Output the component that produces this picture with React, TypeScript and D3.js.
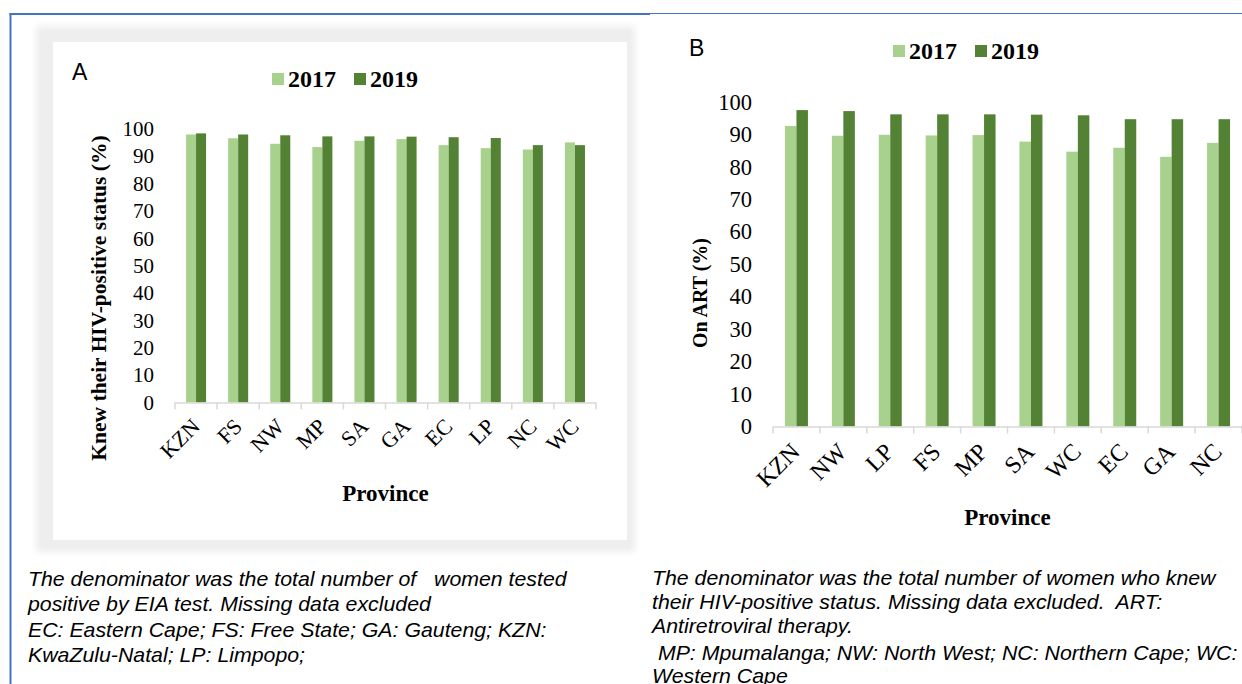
import React from 'react';
import * as d3 from 'd3';

// ---------- data ----------
const seriesNames = ['2017', '2019'];

const provincesA = ['KZN', 'FS', 'NW', 'MP', 'SA', 'GA', 'EC', 'LP', 'NC', 'WC'];
const knew2017 = [98.0, 96.6, 94.6, 93.4, 95.7, 96.3, 94.1, 93.0, 92.5, 95.1];
const knew2019 = [98.4, 98.0, 97.7, 97.3, 97.3, 97.2, 97.0, 96.7, 94.1, 94.1];

const provincesB = ['KZN', 'NW', 'LP', 'FS', 'MP', 'SA', 'WC', 'EC', 'GA', 'NC'];
const art2017 = [92.6, 89.6, 89.9, 89.7, 89.8, 87.8, 84.7, 85.9, 83.1, 87.4];
const art2019 = [97.5, 97.2, 96.2, 96.2, 96.2, 96.1, 95.9, 94.7, 94.7, 94.7];

const yTicks = [0, 10, 20, 30, 40, 50, 60, 70, 80, 90, 100];

const captionA = [
  'The denominator was the total number of   women tested',
  'positive by EIA test. Missing data excluded',
  'EC: Eastern Cape; FS: Free State; GA: Gauteng; KZN:',
  'KwaZulu-Natal; LP: Limpopo;',
];
const captionB = [
  'The denominator was the total number of women who knew',
  'their HIV-positive status. Missing data excluded.  ART:',
  'Antiretroviral therapy.',
  ' MP: Mpumalanga; NW: North West; NC: Northern Cape; WC:',
  'Western Cape',
];

// ---------- style ----------
const COLORS: Record<string, string> = { '2017': '#a9d18e', '2019': '#548235' };
const SERIF = '"Liberation Serif", "Times New Roman", serif';
const SANS = '"Liberation Sans", Arial, sans-serif';
const BLUE = '#4472c4';

type PanelProps = {
  letter: string;
  letterX: number;
  letterY: number;
  cats: string[];
  values: number[][];
  x0: number;
  x1: number;
  yBottom: number;
  yTop: number;
  outerPad: number;
  tickFont: number;
  catFont: number;
  tickRight: number;
  yTitle: string;
  yTitleX: number;
  yTitleY: number;
  yTitleFont: number;
  xTitleY: number;
  legendX: number;
  legendY: number;
  labelDx: number;
  labelDy: number;
};

function Panel(p: PanelProps) {
  const x = d3.scaleBand<string>().domain(p.cats).range([p.x0, p.x1]).paddingInner(0).paddingOuter(0);
  const xs = d3
    .scaleBand<string>()
    .domain(seriesNames)
    .range([0, x.bandwidth()])
    .paddingInner(0)
    .paddingOuter(p.outerPad);
  const y = d3.scaleLinear().domain([0, 100]).range([p.yBottom, p.yTop]);
  const step = x.step();

  return (
    <g>
      <text x={p.letterX} y={p.letterY} fontFamily={SANS} fontSize={23} fill="#000">
        {p.letter}
      </text>
      {/* legend */}
      {seriesNames.map((s, i) => (
        <g key={s} transform={`translate(${p.legendX + i * 82},${p.legendY})`}>
          <rect x={0} y={-6} width={12} height={12} fill={COLORS[s]} />
          <text x={16} y={0} dy="0.34em" fontFamily={SERIF} fontWeight="bold" fontSize={24} fill="#000">
            {s}
          </text>
        </g>
      ))}
      {/* y tick labels */}
      {yTicks.map((t) => (
        <text
          key={t}
          x={p.tickRight}
          y={y(t)}
          dy="0.34em"
          textAnchor="end"
          fontFamily={SERIF}
          fontSize={p.tickFont}
          fill="#000"
        >
          {t}
        </text>
      ))}
      {/* bars */}
      {p.cats.map((c, i) => (
        <g key={c} transform={`translate(${x(c)},0)`}>
          {seriesNames.map((s, j) => (
            <rect
              key={s}
              x={xs(s)}
              y={y(p.values[j][i])}
              width={xs.bandwidth()}
              height={y(0) - y(p.values[j][i])}
              fill={COLORS[s]}
            />
          ))}
        </g>
      ))}
      {/* x axis */}
      <line x1={p.x0} x2={p.x1} y1={y(0) + 0.5} y2={y(0) + 0.5} stroke="#d9d9d9" strokeWidth={1.5} />
      {d3.range(p.cats.length + 1).map((i) => (
        <line
          key={i}
          x1={p.x0 + i * step}
          x2={p.x0 + i * step}
          y1={y(0)}
          y2={y(0) + 7}
          stroke="#d9d9d9"
          strokeWidth={1.5}
        />
      ))}
      {p.cats.map((c) => (
        <text
          key={c}
          transform={`translate(${(x(c) as number) + step / 2 + p.labelDx},${y(0) + p.labelDy}) rotate(-45)`}
          textAnchor="end"
          dy="0.34em"
          fontFamily={SERIF}
          fontSize={p.catFont}
          fill="#000"
        >
          {c}
        </text>
      ))}
      {/* titles */}
      <text
        x={(p.x0 + p.x1) / 2}
        y={p.xTitleY}
        dy="0.34em"
        textAnchor="middle"
        fontFamily={SERIF}
        fontWeight="bold"
        fontSize={23}
        fill="#000"
      >
        Province
      </text>
      <text
        transform={`translate(${p.yTitleX},${p.yTitleY}) rotate(-90)`}
        textAnchor="middle"
        dy="0.34em"
        fontFamily={SERIF}
        fontWeight="bold"
        fontSize={p.yTitleFont}
        fill="#000"
      >
        {p.yTitle}
      </text>
    </g>
  );
}

function Caption({ lines, x, baselines }: { lines: string[]; x: number; baselines: number[] }) {
  return (
    <g transform={`translate(${x},0) scale(1.065,1)`}>
      {lines.map((l, i) => (
        <text
          key={i}
          x={0}
          y={baselines[i]}
          fontFamily={SANS}
          fontStyle="italic"
          fontSize={20}
          fill="#000"
          style={{ whiteSpace: 'pre' }}
        >
          {l}
        </text>
      ))}
    </g>
  );
}

export default function App() {
  return (
    <svg
      width={1242}
      height={684}
      style={{ position: 'absolute', left: 0, top: 0, background: '#fff' }}
      xmlns="http://www.w3.org/2000/svg"
    >
      <defs>
        <filter id="soft" x="-10%" y="-10%" width="120%" height="120%">
          <feGaussianBlur stdDeviation="3" />
        </filter>
      </defs>
      <rect x={0} y={0} width={1242} height={684} fill="#fff" />
      {/* blue frame lines */}
      <line x1={10.5} x2={10.5} y1={13} y2={684} stroke={BLUE} strokeWidth={2} />
      <line x1={9.5} x2={650} y1={14} y2={14} stroke={BLUE} strokeWidth={2} />
      <line x1={650} x2={1242} y1={13.5} y2={13.5} stroke={BLUE} strokeWidth={1} />

      {/* panel A frame */}
      <rect x={36} y={26} width={599} height={526} fill="#eeeeee" filter="url(#soft)" />
      <rect x={53} y={42} width={574} height={498} fill="#fff" />

      <Panel
        letter="A"
        letterX={72}
        letterY={80}
        cats={provincesA}
        values={[knew2017, knew2019]}
        x0={175}
        x1={596}
        yBottom={402.5}
        yTop={129}
        outerPad={1.1}
        tickFont={21}
        catFont={22}
        tickRight={154}
        yTitle="Knew their HIV-positive status (%)"
        yTitleX={99}
        yTitleY={298}
        yTitleFont={21.5}
        xTitleY={493}
        legendX={272}
        legendY={79}
        labelDx={0}
        labelDy={20}
      />
      <Panel
        letter="B"
        letterX={689}
        letterY={56}
        cats={provincesB}
        values={[art2017, art2019]}
        x0={773}
        x1={1242}
        yBottom={426.5}
        yTop={102}
        outerPad={1.04}
        tickFont={22.5}
        catFont={24}
        tickRight={752}
        yTitle="On ART (%)"
        yTitleX={700}
        yTitleY={293}
        yTitleFont={20}
        xTitleY={517}
        legendX={893}
        legendY={51}
        labelDx={-1}
        labelDy={21}
      />

      <Caption lines={captionA} x={28} baselines={[586, 611, 637, 662]} />
      <Caption lines={captionB} x={652} baselines={[585, 609, 633, 660, 683]} />
    </svg>
  );
}
